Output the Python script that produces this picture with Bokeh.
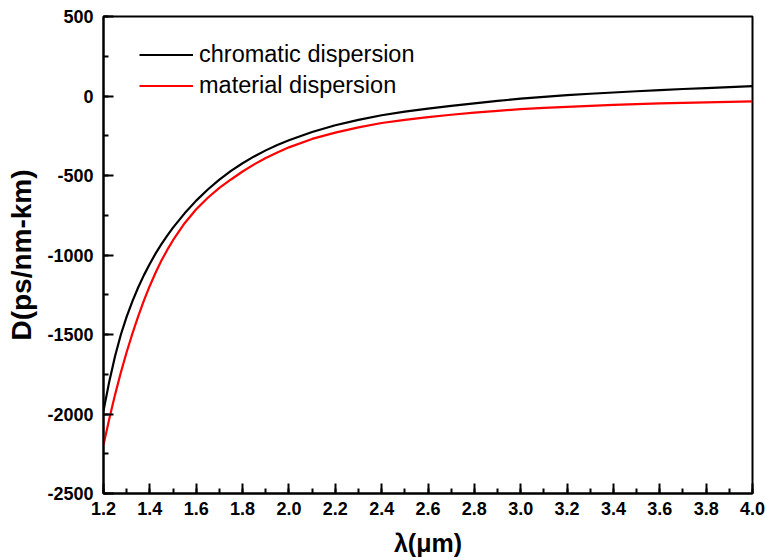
from bokeh.plotting import figure
from bokeh.models import (Range1d, SingleIntervalTicker, NumeralTickFormatter,
                          Legend, LegendItem, ColumnDataSource)
from bokeh.embed import file_html
from bokeh.resources import INLINE

# Wavelength grid (µm) and dispersion values (ps/nm-km)
wavelength = [1.20, 1.225, 1.25, 1.275, 1.30, 1.325, 1.35, 1.375, 1.40, 1.425,
              1.45, 1.475, 1.50, 1.55, 1.60, 1.65, 1.70, 1.75, 1.80, 1.85,
              1.90, 1.95, 2.00, 2.10, 2.20, 2.30, 2.40, 2.50, 2.60, 2.70,
              2.80, 2.90, 3.00, 3.10, 3.20, 3.30, 3.40, 3.50, 3.60, 3.70,
              3.80, 3.90, 4.00]

chromatic = [-1980, -1795, -1635, -1500, -1388, -1290, -1203, -1125, -1055, -990,
             -932, -878, -828, -738, -658, -588, -526, -471, -423, -380,
             -342, -308, -278, -226, -184, -150, -121, -98, -79, -62,
             -46, -31, -17, -5, 5, 14, 22, 30, 37, 44,
             50, 56, 62]

material = [-2195, -2030, -1878, -1738, -1610, -1493, -1384, -1284, -1193, -1110,
            -1035, -968, -907, -800, -712, -640, -578, -525, -475, -430,
            -390, -355, -323, -270, -230, -197, -170, -150, -133, -118,
            -105, -93, -83, -75, -68, -62, -56, -51, -47, -43,
            -40, -37, -34]

series_labels = ["chromatic dispersion", "material dispersion"]
series_colors = ["#000000", "#ff0000"]

FONT = "Liberation Sans"

p = figure(width=765, height=560, output_backend="svg", toolbar_location=None,
           x_range=Range1d(1.2, 4.0), y_range=Range1d(-2500, 500),
           min_border_left=103, min_border_right=13,
           min_border_top=16, min_border_bottom=67)

p.background_fill_color = "white"
p.border_fill_color = "white"
p.xgrid.visible = False
p.ygrid.visible = False
p.outline_line_color = "black"
p.outline_line_width = 2

src = ColumnDataSource(dict(x=wavelength, chrom=chromatic, mat=material))
r1 = p.line("x", "chrom", source=src, line_color=series_colors[0], line_width=2.2)
r2 = p.line("x", "mat", source=src, line_color=series_colors[1], line_width=2.2)

p.xaxis.ticker = SingleIntervalTicker(interval=0.2, num_minor_ticks=2)
p.yaxis.ticker = SingleIntervalTicker(interval=500, num_minor_ticks=2)
p.xaxis.formatter = NumeralTickFormatter(format="0.0")
p.yaxis.formatter = NumeralTickFormatter(format="0")

for ax in (p.xaxis[0], p.yaxis[0]):
    ax.axis_line_color = "black"
    ax.axis_line_width = 2
    ax.major_tick_line_color = "black"
    ax.major_tick_line_width = 2
    ax.minor_tick_line_color = "black"
    ax.minor_tick_line_width = 2
    ax.major_tick_in = 10
    ax.major_tick_out = 0
    ax.minor_tick_in = 5
    ax.minor_tick_out = 0
    ax.major_label_text_font = FONT
    ax.major_label_text_font_style = "bold"
    ax.major_label_text_font_size = "18px"
    ax.major_label_text_color = "black"
    ax.axis_label_text_font = FONT
    ax.axis_label_text_font_style = "bold"
    ax.axis_label_text_color = "black"

p.xaxis.axis_label = "λ(μm)"
p.yaxis.axis_label = "D(ps/nm-km)"
p.xaxis.axis_label_text_font_size = "25px"
p.yaxis.axis_label_text_font_size = "28px"
p.xaxis.major_label_standoff = 8
p.yaxis.major_label_standoff = 10
p.xaxis.axis_label_standoff = 11
p.yaxis.axis_label_standoff = 7

legend = Legend(items=[LegendItem(label=series_labels[0], renderers=[r1]),
                       LegendItem(label=series_labels[1], renderers=[r2])],
                location=(36, 394), border_line_alpha=0,
                background_fill_alpha=0, padding=0, margin=0,
                glyph_width=54, glyph_height=25, label_height=25,
                spacing=4, label_standoff=6,
                label_text_font=FONT, label_text_font_size="23.5px",
                label_text_color="black")
p.add_layout(legend)

open("out.html", "w").write(file_html(p, INLINE))
